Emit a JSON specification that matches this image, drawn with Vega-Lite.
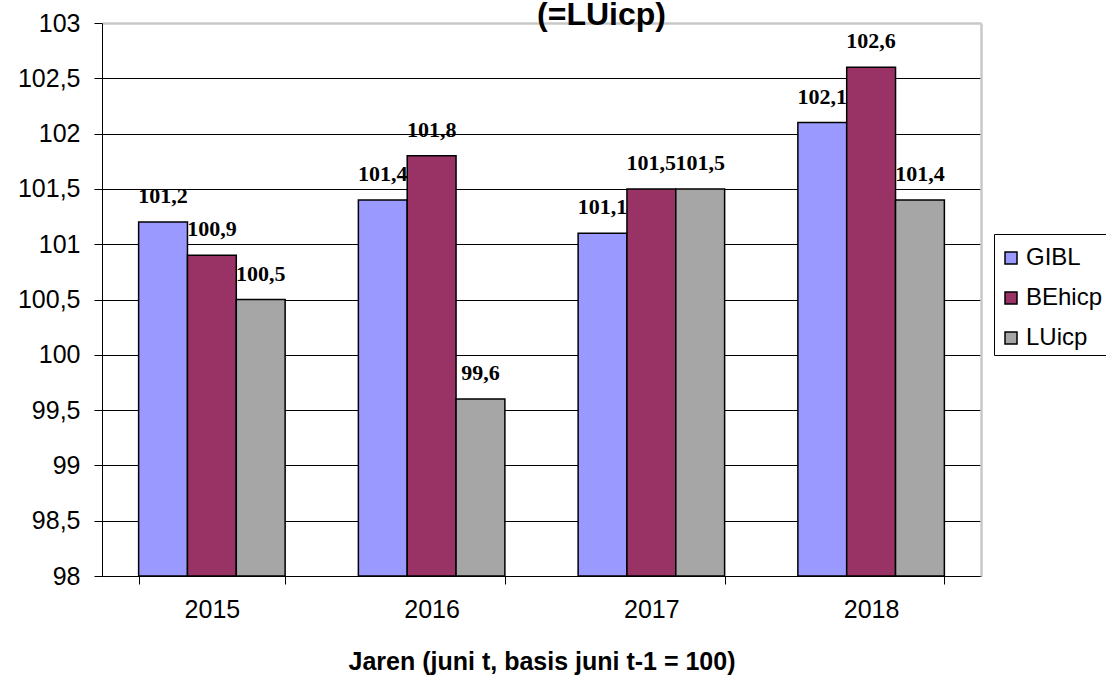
{
  "$schema": "https://vega.github.io/schema/vega-lite/v6.json",
  "width": 879,
  "height": 553,
  "autosize": {"type": "none"},
  "padding": {"left": 102, "top": 23, "right": 125, "bottom": 101},
  "background": "white",
  "title": {
    "text": "(=LUicp)",
    "font": "Liberation Sans",
    "fontSize": 32,
    "fontWeight": "bold",
    "color": "black",
    "anchor": "middle",
    "frame": "group",
    "dx": 60,
    "dy": 21,
    "offset": 0
  },
  "config": {
    "locale": {"number": {"decimal": ",", "thousands": ".", "grouping": [3], "currency": ["", " €"]}},
    "view": {"stroke": null},
    "axis": {"labelFont": "Liberation Sans", "titleFont": "Liberation Sans", "labelColor": "black", "titleColor": "black"}
  },
  "data": {
    "values": [
      {"year": "2015", "series": "GIBL", "value": 101.2},
      {"year": "2015", "series": "BEhicp", "value": 100.9},
      {"year": "2015", "series": "LUicp", "value": 100.5},
      {"year": "2016", "series": "GIBL", "value": 101.4},
      {"year": "2016", "series": "BEhicp", "value": 101.8},
      {"year": "2016", "series": "LUicp", "value": 99.6},
      {"year": "2017", "series": "GIBL", "value": 101.1},
      {"year": "2017", "series": "BEhicp", "value": 101.5},
      {"year": "2017", "series": "LUicp", "value": 101.5},
      {"year": "2018", "series": "GIBL", "value": 102.1},
      {"year": "2018", "series": "BEhicp", "value": 102.6},
      {"year": "2018", "series": "LUicp", "value": 101.4}
    ]
  },
  "resolve": {"axis": {"x": "independent", "y": "independent"}},
  "layer": [
    {
      "mark": {"type": "bar", "stroke": "black", "strokeWidth": 1.5},
      "encoding": {
        "x": {
          "field": "year", "type": "nominal",
          "scale": {"paddingInner": 0.3333, "paddingOuter": 0.1667},
          "axis": {
            "title": "Jaren (juni t, basis juni t-1 = 100)",
            "titleFontSize": 25, "titleFontWeight": "bold", "titlePadding": 27,
            "labelFontSize": 25, "labelPadding": 13, "labelAngle": 0,
            "tickBand": "extent", "tickSize": 8, "tickColor": "black",
            "domainColor": "black", "domainWidth": 1, "grid": false
          }
        },
        "xOffset": {"field": "series", "type": "nominal", "sort": ["GIBL", "BEhicp", "LUicp"], "scale": {"paddingInner": 0, "paddingOuter": 0}},
        "y": {
          "field": "value", "type": "quantitative",
          "scale": {"domain": [98, 103], "zero": false, "nice": false},
          "axis": {
            "title": null,
            "values": [98, 98.5, 99, 99.5, 100, 100.5, 101, 101.5, 102, 102.5, 103],
            "format": "~f",
            "labelFontSize": 25, "labelPadding": 14,
            "tickSize": 8, "tickColor": "black",
            "domainColor": "black", "domainWidth": 1,
            "grid": true,
            "gridColor": {"condition": {"test": "datum.value == 103", "value": "#c8c8c8"}, "value": "black"},
            "gridWidth": {"condition": {"test": "datum.value == 103", "value": 2.5}, "value": 1}
          }
        },
        "y2": {"datum": 98},
        "color": {
          "field": "series", "type": "nominal",
          "scale": {"domain": ["GIBL", "BEhicp", "LUicp"], "range": ["#9999FF", "#993366", "#A6A6A6"]},
          "legend": {
            "title": " ",
            "titleFontSize": 3, "titlePadding": 4,
            "orient": "none", "legendX": 892, "legendY": 211,
            "strokeColor": "black", "fillColor": "white", "padding": 5,
            "symbolType": "square", "symbolSize": 144, "symbolStrokeColor": "black", "symbolStrokeWidth": 1.5, "symbolOpacity": 1,
            "labelFont": "Liberation Sans", "labelFontSize": 24, "labelColor": "black", "labelOffset": 3,
            "rowPadding": 16
          }
        }
      }
    },
    {
      "mark": {"type": "text", "font": "Liberation Serif", "fontWeight": "bold", "fontSize": 22, "baseline": "bottom", "dy": -14, "color": "black"},
      "encoding": {
        "x": {"field": "year", "type": "nominal", "axis": null},
        "xOffset": {"field": "series", "type": "nominal", "sort": ["GIBL", "BEhicp", "LUicp"]},
        "y": {
          "field": "value", "type": "quantitative",
          "axis": {"orient": "right", "title": null, "labels": false, "ticks": false, "grid": false, "domainColor": "#c8c8c8", "domainWidth": 2.5}
        },
        "text": {"field": "value", "type": "quantitative", "format": ".1f"}
      }
    }
  ]
}
